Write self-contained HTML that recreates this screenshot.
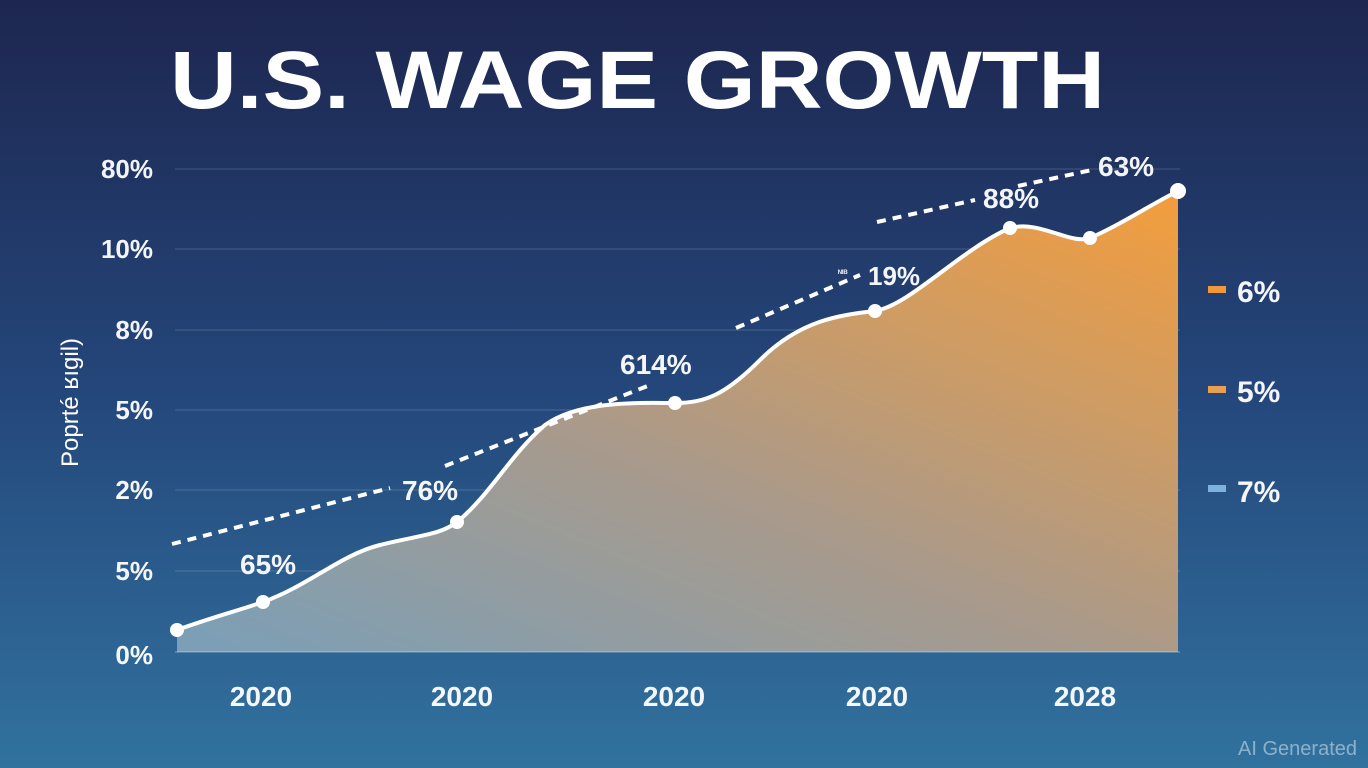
<!DOCTYPE html>
<html><head><meta charset="utf-8"><style>
html,body{margin:0;padding:0;width:1368px;height:768px;overflow:hidden}
</style></head><body>
<svg width="1368" height="768" viewBox="0 0 1368 768" xmlns="http://www.w3.org/2000/svg" font-family="Liberation Sans, sans-serif">
<defs>
<linearGradient id="bg" x1="0" y1="0" x2="0" y2="1">
<stop offset="0" stop-color="#1d264f"/>
<stop offset="0.5" stop-color="#24467a"/>
<stop offset="1" stop-color="#31729f"/>
</linearGradient>
<linearGradient id="ar" x1="0.05" y1="1" x2="0.95" y2="0">
<stop offset="0" stop-color="#7c9fb6"/>
<stop offset="0.45" stop-color="#aa9a8a"/>
<stop offset="1" stop-color="#f19d3f"/>
</linearGradient>
</defs>
<rect width="1368" height="768" fill="url(#bg)"/>
<text x="170" y="108" font-size="82" font-weight="bold" fill="#fff" textLength="935" lengthAdjust="spacingAndGlyphs">U.S. WAGE GROWTH</text>
<g stroke="#ffffff" stroke-opacity="0.18" stroke-width="1">
<line x1="175" y1="169" x2="1180" y2="169"/><line x1="175" y1="249" x2="1180" y2="249"/>
<line x1="175" y1="330" x2="1180" y2="330"/><line x1="175" y1="410" x2="1180" y2="410"/>
<line x1="175" y1="490" x2="1180" y2="490"/><line x1="175" y1="571" x2="1180" y2="571"/>
</g>
<g fill="#fff" font-size="26" text-anchor="end" font-weight="bold" fill-opacity="0.95">
<text x="153" y="178">80%</text><text x="153" y="258">10%</text><text x="153" y="339">8%</text>
<text x="153" y="419">5%</text><text x="153" y="499">2%</text><text x="153" y="580">5%</text><text x="153" y="664">0%</text>
</g>
<text transform="translate(78,467) rotate(-90)" fill="#fff" font-size="24">Poprté ʁıgil)</text>
<path d="M177,630 C210,618 240,610 263,602 C310,585 340,555 380,545 C420,535 440,535 457,522 C490,495 510,455 545,425 C580,400 640,403 675,403 C705,403 725,395 760,360 C800,320 840,315 875,311 C910,305 960,250 1010,228 C1040,220 1070,245 1090,238 C1120,225 1150,205 1178,191 L1178,652 L177,652 Z" fill="url(#ar)"/>
<line x1="175" y1="652" x2="1180" y2="652" stroke="#ffffff" stroke-opacity="0.4"/>
<path d="M177,630 C210,618 240,610 263,602 C310,585 340,555 380,545 C420,535 440,535 457,522 C490,495 510,455 545,425 C580,400 640,403 675,403 C705,403 725,395 760,360 C800,320 840,315 875,311 C910,305 960,250 1010,228 C1040,220 1070,245 1090,238 C1120,225 1150,205 1178,191" fill="none" stroke="#fff" stroke-width="4"/>
<g stroke="#fff" stroke-width="4" stroke-dasharray="9,7" fill="none">
<line x1="172" y1="544" x2="390" y2="488"/>
<line x1="445" y1="466" x2="650" y2="385"/>
<line x1="736" y1="328" x2="860" y2="275"/>
<line x1="877" y1="222" x2="975" y2="200"/>
<line x1="1018" y1="186" x2="1092" y2="170"/>
</g>
<g fill="#fff">
<circle cx="177" cy="630" r="7"/><circle cx="263" cy="602" r="7"/><circle cx="457" cy="522" r="7"/>
<circle cx="675" cy="403" r="7"/><circle cx="875" cy="311" r="7"/><circle cx="1010" cy="228" r="7"/>
<circle cx="1090" cy="238" r="7"/><circle cx="1178" cy="191" r="8"/>
</g>
<g fill="#fff" font-size="28" font-weight="bold" fill-opacity="0.95">
<text x="240" y="574">65%</text><text x="402" y="500">76%</text><text x="620" y="374">614%</text>
<text x="868" y="285" font-size="26">19%</text><text x="838" y="276" font-size="9">ᴺᴵᴮ</text>
<text x="983" y="208">88%</text><text x="1098" y="176">63%</text>
</g>
<rect x="1208" y="286" width="18" height="7" fill="#f0993a"/>
<rect x="1208" y="386" width="18" height="7" fill="#e8a050"/>
<rect x="1208" y="485" width="18" height="7" fill="#7bb3dc"/>
<g fill="#fff" font-size="30" font-weight="bold" fill-opacity="0.95">
<text x="1237" y="302">6%</text><text x="1237" y="402">5%</text><text x="1237" y="502">7%</text>
</g>
<g fill="#fff" font-size="28" text-anchor="middle" font-weight="bold" fill-opacity="0.95">
<text x="261" y="706">2020</text><text x="462" y="706">2020</text><text x="674" y="706">2020</text>
<text x="877" y="706">2020</text><text x="1085" y="706">2028</text>
</g>
<text x="1357" y="755" fill="#ffffff" fill-opacity="0.45" font-size="20" text-anchor="end">AI Generated</text>
</svg>
</body></html>
